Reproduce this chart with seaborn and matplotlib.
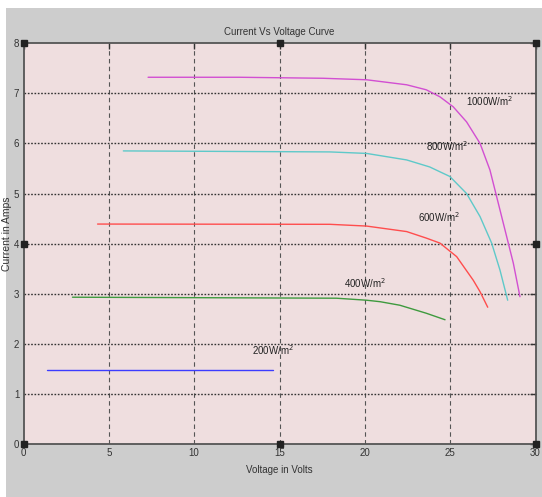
import numpy as np
import pandas as pd
import matplotlib
matplotlib.use("Agg")
import matplotlib.pyplot as plt
import seaborn as sns
from matplotlib.patches import Rectangle

# ---- data ----
v_1000 = [7.3, 12.67, 17.55, 20.1, 22.45, 23.6, 24.4, 25.18, 25.96, 26.75, 27.33, 27.92, 28.31, 28.7, 29.09]
i_1000 = [7.32, 7.32, 7.30, 7.27, 7.17, 7.07, 6.93, 6.73, 6.43, 6.00, 5.47, 4.67, 4.14, 3.61, 2.94]

v_800 = [5.85, 17.95, 20.1, 22.45, 23.8, 24.98, 25.96, 26.75, 27.43, 27.92, 28.37]
i_800 = [5.85, 5.83, 5.80, 5.67, 5.53, 5.34, 5.00, 4.54, 4.01, 3.47, 2.87]

v_600 = [4.34, 17.95, 20.1, 22.45, 23.6, 24.4, 25.38, 26.35, 26.75, 27.2]
i_600 = [4.39, 4.385, 4.35, 4.24, 4.11, 4.01, 3.74, 3.27, 3.04, 2.73]

v_400 = [2.87, 18.34, 20.1, 20.9, 22.05, 23.6, 24.7]
i_400 = [2.93, 2.91, 2.87, 2.84, 2.77, 2.61, 2.48]

v_200 = [1.4, 14.6]
i_200 = [1.47, 1.47]

labels = ["1000W/m$^2$", "800W/m$^2$", "600W/m$^2$", "400W/m$^2$", "200W/m$^2$"]
label_v = [25.9, 23.6, 23.1, 18.8, 13.4]
label_i = [6.84, 5.95, 4.53, 3.22, 1.88]

x_ticks = [0, 5, 10, 15, 20, 25, 30]
y_ticks = [0, 1, 2, 3, 4, 5, 6, 7, 8]
title = "Current Vs Voltage Curve"
xlabel = "Voltage in Volts"
ylabel = "Current in Amps"

colors = ["#d24fd2", "#5ec9c9", "#ff4d4d", "#3e9a3e", "#3c3cff"]

series = [(v_1000, i_1000), (v_800, i_800), (v_600, i_600), (v_400, i_400), (v_200, i_200)]
frames = []
for k, (v, i) in enumerate(series):
    frames.append(pd.DataFrame({"V": v, "I": i, "s": labels[k]}))
df = pd.concat(frames, ignore_index=True)

sns.set_style("white")
plt.rcParams["font.family"] = ["Liberation Sans Narrow", "Liberation Sans", "DejaVu Sans"]

fig = plt.figure(figsize=(5.42, 4.97), dpi=100, facecolor="#cdcdcd")
# white screenshot margins
fig.patches.append(Rectangle((0, 1 - 8 / 497), 1, 8 / 497, transform=fig.transFigure,
                             facecolor="white", edgecolor="none", zorder=-1))
fig.patches.append(Rectangle((0, 0), 6 / 542, 1, transform=fig.transFigure,
                             facecolor="white", edgecolor="none", zorder=-1))

ax = fig.add_axes([23.5 / 542, (497 - 444) / 497, (535.5 - 23.5) / 542, (444 - 43.2) / 497])
ax.set_facecolor("#efdedf")

for k, lab in enumerate(labels):
    sub = df[df["s"] == lab]
    sns.lineplot(data=sub, x="V", y="I", ax=ax, color=colors[k], lw=1.0,
                 sort=False, estimator=None, legend=False)

for k, lab in enumerate(labels):
    ax.text(label_v[k], label_i[k], lab, fontsize=7, color="#222222",
            va="center", ha="left")

ax.set_xlim(0, 30)
ax.set_ylim(0, 8)
ax.set_xticks(x_ticks)
ax.set_yticks(y_ticks)
ax.set_xticklabels([str(t) for t in x_ticks], fontsize=7, color="#333333")
ax.set_yticklabels([str(t) for t in y_ticks], fontsize=7, color="#333333")

# grid
for xv in x_ticks[1:-1]:
    ax.axvline(xv, color="#555555", lw=0.8, ls=(0, (4, 3)), zorder=0.5)
for yv in y_ticks[1:-1]:
    ax.axhline(yv, color="#333333", lw=1.0, ls=(0, (1.2, 1.2)), zorder=0.5)

ax.tick_params(axis="both", direction="in", length=4, width=1, color="#333333",
               top=True, right=True, pad=3)

for sp in ax.spines.values():
    sp.set_color("#555555")
    sp.set_linewidth(1.3)

ax.set_xlabel(xlabel, fontsize=7, color="#333333", labelpad=5)
ax.set_ylabel(ylabel, fontsize=7.5, color="#333333",
              family=["Liberation Sans", "DejaVu Sans"])
ax.yaxis.set_label_coords(-0.023, 0.524)
ax.set_title(title, fontsize=7, color="#333333", pad=6)

# scope handles (black squares at limits)
hx = [0, 15, 30, 0, 15, 30, 0, 30]
hy = [8, 8, 8, 0, 0, 0, 4, 4]
ax.plot(hx, hy, "s", color="#222222", ms=4, clip_on=False, zorder=5)

fig.savefig("out.png", dpi=100, facecolor=fig.get_facecolor())
